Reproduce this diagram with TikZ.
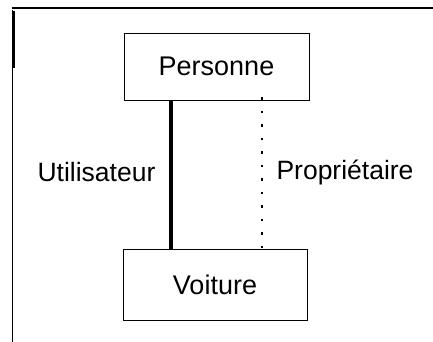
\documentclass[tikz,border=0pt]{standalone}
\usepackage{fontspec}
\setmainfont{Liberation Sans}
\begin{document}
\begin{tikzpicture}[x=1pt,y=-1pt,
  classbox/.style={draw,line width=0.9pt,inner sep=0pt,font=\fontsize{27}{31}\selectfont},
  lbl/.style={inner sep=0pt,font=\fontsize{26.5}{30}\selectfont},
  frame/.style={line width=1.6pt}]
\useasboundingbox (0,0) rectangle (433,342);
% frame
\draw[frame] (12,8) -- (433,8);
\draw[line width=1.3pt] (12.8,10) -- (12.8,342);
\draw[line width=3pt] (13.5,11) -- (13.5,68);
% classes
\node[classbox,minimum width=185pt,minimum height=67pt] (p) at (216.5,66.5) {Personne};
\node[classbox,minimum width=184pt,minimum height=71pt] (v) at (215,284.5) {Voiture};
% connectors
\coordinate (cu) at (171,0);
\coordinate (cp) at (262,0);
\draw[line width=3.5pt] (p.south -| cu) -- (v.north -| cu);
\draw[line width=1.2pt,dash pattern=on 2.5pt off 11pt] ([yshift=3pt]p.south -| cp) -- ([yshift=-9pt]v.north -| cp);
% labels
\node[lbl] (u) at (96.5,172) {Utilisateur};
\node[lbl] (pr) at (345,172) {Propriétaire};
\end{tikzpicture}
\end{document}
